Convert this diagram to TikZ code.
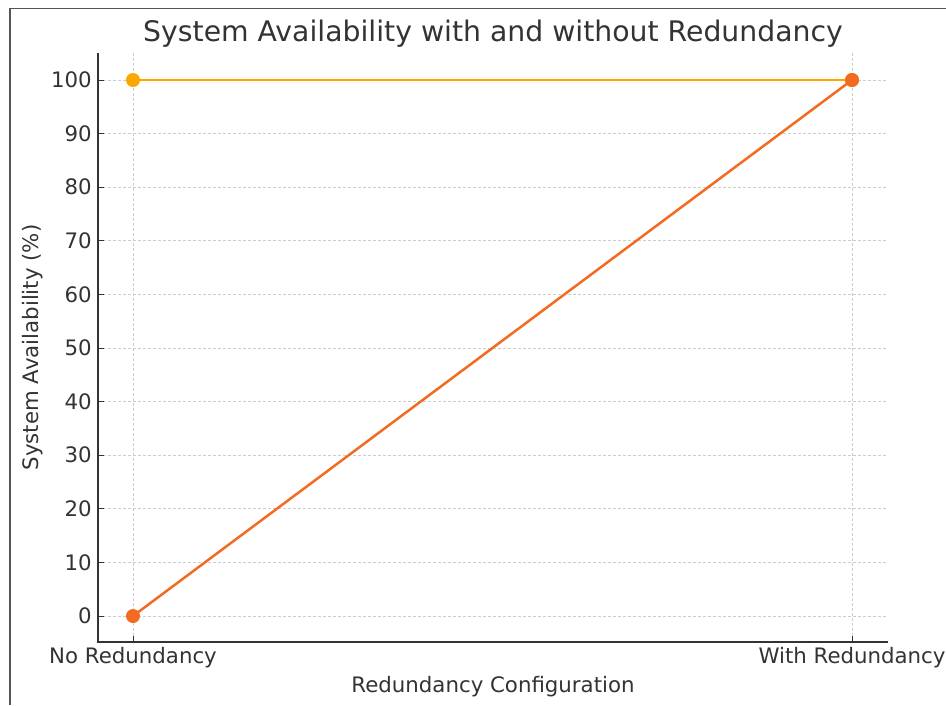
\documentclass[tikz,border=0pt]{standalone}
\usepackage{xcolor}
\usepackage{fontspec}
\setmainfont{DejaVu Sans}
\usepackage{tikz}

\definecolor{txtgray}{HTML}{333333}
\definecolor{gridgray}{HTML}{CCCCCC}
\definecolor{framegray}{HTML}{555555}
\definecolor{lineorange}{HTML}{FFA500}
\definecolor{lineredorange}{HTML}{F26B21}

\tikzset{
  spine/.style={draw=txtgray, line width=1.8pt},
  gridline/.style={draw=gridgray, line width=0.8pt, dash pattern=on 3pt off 2pt},
  tickmark/.style={draw=txtgray, line width=1pt},
  ticklabel/.style={inner sep=0pt, text=txtgray, font=\fontsize{21.3}{24}\selectfont},
  marker/.style={circle, inner sep=0pt, minimum size=14pt},
}

\begin{document}
\begin{tikzpicture}[x=1pt,y=1pt,yscale=-1,xscale=1]
	\useasboundingbox (0,0) rectangle (946,705);
	
	%Frame of the figure
	\draw [draw=framegray, line width=1.6pt] (10,705) -- (10,8.5) -- (946,8.5) ;
	
	%Grid, vertical
	\draw [gridline]   (133,53) -- (133,642) ;
	\draw [gridline]   (852,53) -- (852,642) ;
	%Grid, horizontal, ticks and tick labels
	\foreach \v in {0,10,...,100} {
		\draw [gridline]   (98,616-5.36*\v) -- (888,616-5.36*\v) ;
		\draw [tickmark]   (98,616-5.36*\v) -- (104,616-5.36*\v) ;
		\draw (92,616-5.36*\v) node [anchor=east][ticklabel] {\v};
	}
	%Ticks, horizontal axis
	\draw [tickmark]   (133,642) -- (133,636) ;
	\draw [tickmark]   (852,642) -- (852,636) ;
	
	%Spines
	\draw [spine]   (98,53) -- (98,642) -- (888,642) ;
	
	%Data points
	\coordinate (noA) at (133,80) ;
	\coordinate (withA) at (852,80) ;
	\coordinate (noB) at (133,616) ;
	\coordinate (withB) at (852,80) ;
	
	%Line with redundancy
	\draw [draw=lineorange, line width=2.5pt]   (noA) -- (withA) ;
	\node [marker, fill=lineorange] (mnoA) at (noA) {};
	\node [marker, fill=lineorange] (mwithA) at (withA) {};
	%Line without redundancy
	\draw [draw=lineredorange, line width=2.5pt]   (noB) -- (withB) ;
	\node [marker, fill=lineredorange] (mnoB) at (noB) {};
	\node [marker, fill=lineredorange] (mwithB) at (withB) {};
	
	% Text Node
	\draw (133,658) node [ticklabel] (xno) {No Redundancy};
	% Text Node
	\draw (852,658) node [ticklabel] (xwith) {With Redundancy};
	% Text Node
	\draw (493,687) node [ticklabel] (xlabel) {Redundancy Configuration};
	% Text Node
	\draw (33,347.5) node [ticklabel, rotate=90] (ylabel) {System Availability (\%)};
	% Text Node
	\draw (493,34) node [inner sep=0pt, text=txtgray, font=\fontsize{28.3}{32}\selectfont] (title) {System Availability with and without Redundancy};
\end{tikzpicture}
\end{document}
